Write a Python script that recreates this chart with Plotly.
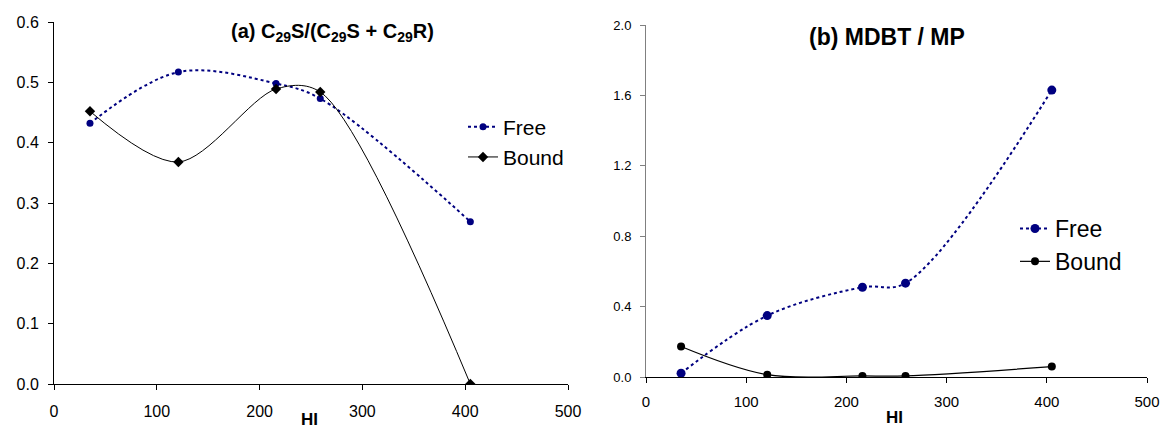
import plotly.graph_objects as go

# ---- data ----
hi = [35, 121, 216, 259, 405]
a_free = [0.432, 0.517, 0.498, 0.473, 0.269]
a_bound = [0.452, 0.368, 0.489, 0.484, 0.0]
b_free = [0.021, 0.349, 0.510, 0.533, 1.630]
b_bound = [0.173, 0.013, 0.006, 0.006, 0.059]

a_yticks = [0.0, 0.1, 0.2, 0.3, 0.4, 0.5, 0.6]
b_yticks = [0.0, 0.4, 0.8, 1.2, 1.6, 2.0]
xticks = [0, 100, 200, 300, 400, 500]

W, H = 1161, 428
NAVY = "#000080"
FONT = "Liberation Sans, Arial, sans-serif"

fig = go.Figure()

# left panel
fig.add_trace(go.Scatter(x=hi, y=a_free, name="Free", mode="lines+markers",
                         line=dict(color=NAVY, width=2, dash="dot", shape="spline", smoothing=1),
                         marker=dict(color=NAVY, size=7, symbol="circle"),
                         xaxis="x", yaxis="y", legend="legend"))
fig.add_trace(go.Scatter(x=hi, y=a_bound, name="Bound", mode="lines+markers",
                         line=dict(color="black", width=1, shape="spline", smoothing=0.9),
                         marker=dict(color="black", size=8, symbol="diamond"),
                         xaxis="x", yaxis="y", legend="legend"))
# right panel
fig.add_trace(go.Scatter(x=hi, y=b_free, name="Free", mode="lines+markers",
                         line=dict(color=NAVY, width=2, dash="dot", shape="spline", smoothing=1),
                         marker=dict(color=NAVY, size=9, symbol="circle"),
                         xaxis="x2", yaxis="y2", legend="legend2"))
fig.add_trace(go.Scatter(x=hi, y=b_bound, name="Bound", mode="lines+markers",
                         line=dict(color="black", width=1.2, shape="spline", smoothing=1),
                         marker=dict(color="black", size=8, symbol="circle"),
                         xaxis="x2", yaxis="y2", legend="legend2"))

def px(v):
    return v / W

def py(v):
    return (H - v) / H

axis_common = dict(showgrid=False, zeroline=False, showline=True, ticks="outside",
                   ticklen=5, tickwidth=1, fixedrange=True, automargin=False)

fig.update_layout(
    width=W, height=H,
    margin=dict(l=0, r=0, t=0, b=0, pad=0, autoexpand=False),
    paper_bgcolor="white", plot_bgcolor="white",
    font=dict(family=FONT, color="black"),
    hovermode=False,
    xaxis=dict(domain=[px(54), px(568)], range=[0, 500], tickvals=xticks,
               linecolor="black", tickcolor="black", anchor="y",
               tickfont=dict(size=16), ticklabelstandoff=8, **axis_common),
    yaxis=dict(domain=[py(384), py(22)], range=[0, 0.6], tickvals=a_yticks,
               tickformat=".1f", linecolor="black", tickcolor="black", anchor="x",
               tickfont=dict(size=16), ticklabelstandoff=6, **axis_common),
    xaxis2=dict(domain=[px(646), px(1147)], range=[0, 500], tickvals=xticks,
                linecolor="black", tickcolor="black", anchor="y2",
                tickfont=dict(size=15), ticklabelstandoff=6, **axis_common),
    yaxis2=dict(domain=[py(377), py(25)], range=[0, 2.0], tickvals=b_yticks,
                tickformat=".1f", linecolor="#808080", tickcolor="#808080", anchor="x2",
                tickfont=dict(size=13), ticklabelstandoff=6, **axis_common),
    legend=dict(x=px(463), y=py(142), xanchor="left", yanchor="middle",
                font=dict(size=21), bgcolor="rgba(0,0,0,0)", itemwidth=30),
    legend2=dict(x=px(1015), y=py(245), xanchor="left", yanchor="middle",
                 font=dict(size=23), bgcolor="rgba(0,0,0,0)", itemwidth=30),
    showlegend=True,
    annotations=[
        dict(text="<b>(a) C<sub>29</sub>S/(C<sub>29</sub>S + C<sub>29</sub>R)</b>",
             x=px(332), y=py(32), xref="paper", yref="paper", showarrow=False,
             xanchor="center", yanchor="middle", font=dict(size=20)),
        dict(text="<b>(b) MDBT / MP</b>",
             x=px(887), y=py(37), xref="paper", yref="paper", showarrow=False,
             xanchor="center", yanchor="middle", font=dict(size=23)),
        dict(text="<b>HI</b>", x=px(309), y=py(419), xref="paper", yref="paper",
             showarrow=False, xanchor="center", yanchor="middle", font=dict(size=17)),
        dict(text="<b>HI</b>", x=px(895), y=py(417), xref="paper", yref="paper",
             showarrow=False, xanchor="center", yanchor="middle", font=dict(size=17)),
    ],
)

fig.write_html(
    "out.html",
    config={"displayModeBar": False, "staticPlot": True},
    post_script="document.body.style.margin='0';document.body.style.overflow='hidden';",
)
